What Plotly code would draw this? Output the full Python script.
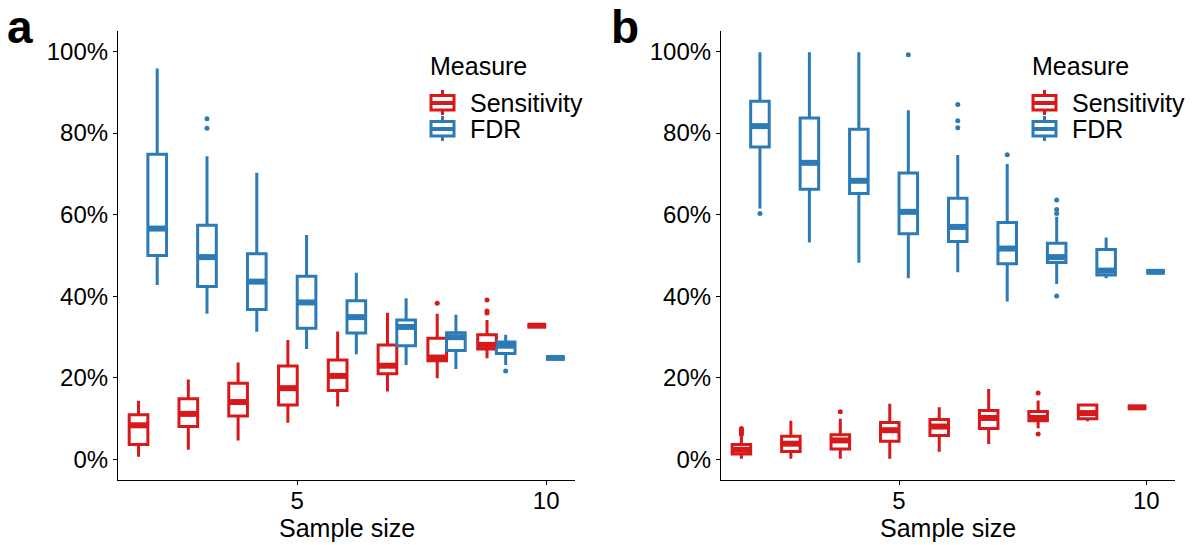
import plotly.graph_objects as go

sizes = [2, 3, 4, 5, 6, 7, 8, 9, 10]

# ---- Panel a (values in %) ----
a_sens_lo  = [0.7, 2.4, 4.7, 9.0, 13.0, 16.7, 19.9, 24.8, 32.8]
a_sens_q1  = [3.7, 8.1, 10.7, 13.4, 16.9, 21.0, 24.2, 27.1, 32.8]
a_sens_med = [8.4, 11.2, 14.1, 17.5, 20.5, 23.0, 25.0, 28.1, 32.8]
a_sens_q3  = [11.0, 14.9, 18.7, 22.9, 24.4, 28.1, 29.7, 30.6, 32.8]
a_sens_hi  = [14.4, 19.6, 23.8, 29.3, 31.4, 36.0, 35.7, 34.2, 32.8]
a_sens_out_x = [8, 9, 9, 9]
a_sens_out_y = [38.3, 39.1, 36.4, 35.9]

a_fdr_lo  = [42.8, 35.7, 31.3, 27.1, 25.8, 23.2, 22.2, 23.2, 24.9]
a_fdr_q1  = [50.0, 42.4, 36.8, 32.2, 31.0, 27.9, 26.7, 26.0, 24.9]
a_fdr_med = [56.6, 49.6, 43.6, 38.5, 34.9, 32.5, 30.0, 27.9, 24.9]
a_fdr_q3  = [74.8, 57.4, 50.4, 44.9, 38.9, 34.2, 31.1, 28.8, 24.9]
a_fdr_hi  = [95.8, 74.3, 70.3, 55.0, 45.8, 39.5, 35.5, 30.6, 24.9]
a_fdr_out_x = [3, 3, 9]
a_fdr_out_y = [83.5, 81.2, 21.7]

# ---- Panel b (values in %) ----
b_sens_lo  = [0.2, 0.2, 0.2, 0.2, 1.9, 3.8, 7.7, 9.4, 12.8]
b_sens_q1  = [1.4, 2.0, 2.6, 4.5, 5.9, 7.6, 9.5, 10.0, 12.8]
b_sens_med = [2.4, 3.9, 4.7, 7.2, 8.1, 10.2, 10.2, 11.4, 12.8]
b_sens_q3  = [3.7, 5.7, 6.1, 9.1, 9.8, 12.0, 11.8, 13.4, 12.8]
b_sens_hi  = [5.8, 9.5, 10.0, 13.7, 12.8, 17.3, 14.5, 13.6, 12.8]
b_sens_out_x = [2, 2, 2, 2, 2, 4, 8, 8]
b_sens_out_y = [6.2, 6.6, 7.0, 7.3, 7.6, 11.7, 16.3, 6.3]

b_fdr_lo  = [61.5, 53.2, 48.2, 44.4, 45.9, 38.7, 43.0, 44.4, 46.0]
b_fdr_q1  = [76.6, 66.2, 65.2, 55.3, 53.4, 48.0, 48.3, 45.2, 46.0]
b_fdr_med = [81.7, 72.7, 68.3, 60.7, 57.0, 51.7, 49.6, 46.3, 46.0]
b_fdr_q3  = [87.8, 83.7, 80.9, 70.2, 64.0, 58.1, 53.0, 51.5, 46.0]
b_fdr_hi  = [99.8, 99.8, 99.8, 85.6, 74.6, 72.4, 59.5, 54.4, 46.0]
b_fdr_out_x = [2, 5, 6, 6, 6, 7, 8, 8, 8, 8]
b_fdr_out_y = [60.3, 99.2, 87.0, 83.0, 81.3, 74.7, 63.6, 61.3, 60.3, 40.1]

measures = ["Sensitivity", "FDR"]
legend_title = "Measure"
axis_title = "Sample size"
panel_labels = ["a", "b"]
colors = {"Sensitivity": "#D7191C", "FDR": "#2C7BB6"}
dodge = 0.1875
box_w = 0.375
FONT = "Liberation Sans, Arial, sans-serif"
W, H = 1196, 545

def px(xp):
    return xp / W

def py(yp):
    return 1 - yp / H

fig = go.Figure()

panels = [
    ("x", "y", {
        "Sensitivity": (a_sens_lo, a_sens_q1, a_sens_med, a_sens_q3, a_sens_hi, a_sens_out_x, a_sens_out_y),
        "FDR": (a_fdr_lo, a_fdr_q1, a_fdr_med, a_fdr_q3, a_fdr_hi, a_fdr_out_x, a_fdr_out_y)}),
    ("x2", "y2", {
        "Sensitivity": (b_sens_lo, b_sens_q1, b_sens_med, b_sens_q3, b_sens_hi, b_sens_out_x, b_sens_out_y),
        "FDR": (b_fdr_lo, b_fdr_q1, b_fdr_med, b_fdr_q3, b_fdr_hi, b_fdr_out_x, b_fdr_out_y)}),
]

for xa, ya, data in panels:
    for i, m in enumerate(measures):
        lo, q1, med, q3, hi, ox, oy = data[m]
        off = -dodge if i == 0 else dodge
        xs = [s + off for s in sizes]
        col = colors[m]
        fig.add_trace(go.Box(
            x=xs, lowerfence=[v / 100 for v in lo], q1=[v / 100 for v in q1],
            median=[v / 100 for v in med], q3=[v / 100 for v in q3],
            upperfence=[v / 100 for v in hi],
            width=box_w, whiskerwidth=0, boxpoints=False,
            fillcolor="white", line=dict(color=col, width=3),
            name=m, showlegend=False,
            xaxis=xa, yaxis=ya, hoverinfo="skip"))
        # thick median bar (ggplot fatten)
        mx, my = [], []
        for x0, v in zip(xs, med):
            mx += [x0 - box_w / 2, x0 + box_w / 2, None]
            my += [v / 100, v / 100, None]
        fig.add_trace(go.Scatter(
            x=mx, y=my, mode="lines", line=dict(color=col, width=6),
            showlegend=False, xaxis=xa, yaxis=ya, hoverinfo="skip"))
        # outliers
        fig.add_trace(go.Scatter(
            x=[v + off for v in ox], y=[v / 100 for v in oy], mode="markers",
            marker=dict(color=col, size=5), showlegend=False,
            xaxis=xa, yaxis=ya, hoverinfo="skip"))

axis_common = dict(
    showline=True, linecolor="black", linewidth=1.2,
    ticks="outside", ticklen=4, tickwidth=1.2, tickcolor="black",
    showgrid=False, zeroline=False,
    tickfont=dict(family=FONT, size=24, color="black"),
)

# ---- manual legends (ggplot-style key spacing) ----
annotations = []
shapes = []
legend_left = [430, 1032]
title_cy = 66
item_cy = [103, 129]
for lx in legend_left:
    annotations.append(dict(
        text=legend_title, x=px(lx - 2), y=py(title_cy), xref="paper", yref="paper",
        xanchor="left", yanchor="middle", showarrow=False,
        font=dict(size=25, family=FONT, color="black")))
    for m, cy in zip(measures, item_cy):
        col = colors[m]
        annotations.append(dict(
            text=m, x=px(lx + 38), y=py(cy), xref="paper", yref="paper",
            xanchor="left", yanchor="middle", showarrow=False,
            font=dict(size=25, family=FONT, color="black")))
        kx0, kx1, kc = lx + 1, lx + 24, lx + 12.5
        shapes.append(dict(type="line", xref="paper", yref="paper",
                           x0=px(kc), x1=px(kc), y0=py(cy - 13), y1=py(cy + 12),
                           line=dict(color=col, width=3)))
        shapes.append(dict(type="rect", xref="paper", yref="paper",
                           x0=px(kx0), x1=px(kx1), y0=py(cy - 7.5), y1=py(cy + 7),
                           line=dict(color=col, width=3), fillcolor="white"))
        shapes.append(dict(type="line", xref="paper", yref="paper",
                           x0=px(kx0), x1=px(kx1), y0=py(cy), y1=py(cy),
                           line=dict(color=col, width=4)))

# panel letters
for lbl, lx in zip(panel_labels, [6, 610]):
    annotations.append(dict(
        text="<b>" + lbl + "</b>", x=px(lx), y=1, xref="paper", yref="paper",
        xanchor="left", yanchor="top", showarrow=False, borderpad=0,
        font=dict(size=46, family=FONT, color="black")))

# x axis titles
x_domains = [[118 / W, 575 / W], [721 / W, 1175 / W]]
for dom in x_domains:
    annotations.append(dict(
        text=axis_title, x=(dom[0] + dom[1]) / 2, y=py(528), xref="paper", yref="paper",
        xanchor="center", yanchor="middle", showarrow=False, borderpad=0,
        font=dict(size=25, family=FONT, color="black")))

ydom = [1 - 480 / H, 1 - 31 / H]
xcommon = dict(range=[1.4, 10.58], tickvals=[5, 10], ticklabelstandoff=-5)
ycommon = dict(domain=ydom, range=[-0.05, 1.05],
               tickvals=[0, 0.2, 0.4, 0.6, 0.8, 1.0], tickformat=".0%")

fig.update_layout(
    width=W, height=H,
    margin=dict(l=0, r=0, t=0, b=0),
    paper_bgcolor="white", plot_bgcolor="white",
    font=dict(family=FONT, color="black"),
    showlegend=False,
    xaxis=dict(domain=x_domains[0], anchor="y", **xcommon, **axis_common),
    yaxis=dict(anchor="x", **ycommon, **axis_common),
    xaxis2=dict(domain=x_domains[1], anchor="y2", **xcommon, **axis_common),
    yaxis2=dict(anchor="x2", **ycommon, **axis_common),
    annotations=annotations,
    shapes=shapes,
)

fig.write_html("out.html")
